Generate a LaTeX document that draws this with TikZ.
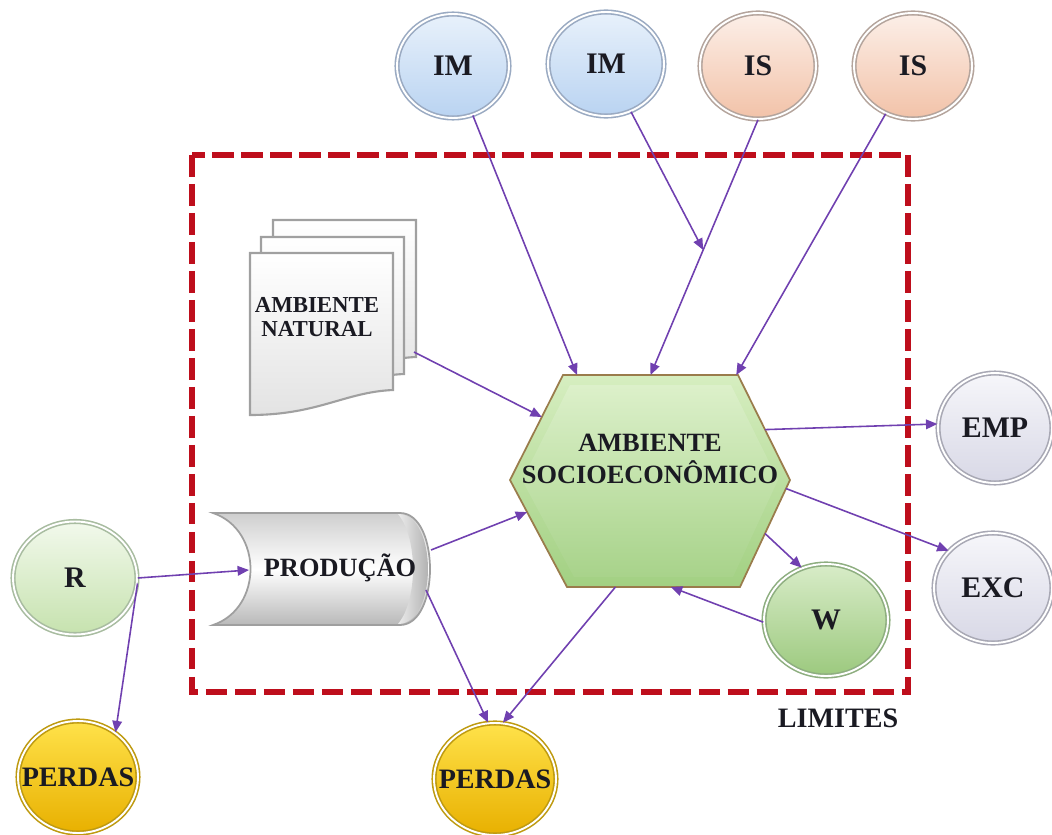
\documentclass[tikz,border=0pt]{standalone}
\usepackage{fontspec}
\setmainfont{Liberation Serif}
\usetikzlibrary{arrows.meta,shapes.geometric,calc}

\definecolor{linkc}{HTML}{7040B0}
\definecolor{limred}{HTML}{BE0E1C}
\definecolor{txt}{HTML}{1A1A22}
\definecolor{imtop}{HTML}{E8F1FB}\definecolor{imbot}{HTML}{B9D3F1}\definecolor{imring}{HTML}{9AAAC2}
\definecolor{istop}{HTML}{FCEFE8}\definecolor{isbot}{HTML}{F2C2A8}\definecolor{isring}{HTML}{B4A49C}
\definecolor{extop}{HTML}{F6F6FA}\definecolor{exbot}{HTML}{D8D8E6}\definecolor{exring}{HTML}{A8A8B4}
\definecolor{rtop}{HTML}{F2F9EC}\definecolor{rbot}{HTML}{C6E2AE}\definecolor{rring}{HTML}{A8BCA0}
\definecolor{wtop}{HTML}{D8ECC8}\definecolor{wbot}{HTML}{9CC97E}\definecolor{wring}{HTML}{8EAE80}
\definecolor{ptop}{HTML}{FFE24A}\definecolor{pbot}{HTML}{E8B000}\definecolor{pring}{HTML}{BE9A10}
\definecolor{hextop}{HTML}{D6EEC0}\definecolor{hexbot}{HTML}{A2D082}\definecolor{hexedge}{HTML}{9A7C4C}
\definecolor{pagec}{HTML}{A0A0A0}

\newcommand{\ctext}[1]{\makebox[0pt]{#1}}

\begin{document}
\begin{tikzpicture}[x=0.02cm,y=-0.02cm,
  bubble/.style={ellipse, inner sep=0pt, line width=0.9pt, double=white, double distance=1.1pt,
    text=txt, font=\fontsize{17}{17}\selectfont\bfseries},
  imb/.style={bubble, draw=imring, top color=imtop, bottom color=imbot},
  isb/.style={bubble, draw=isring, top color=istop, bottom color=isbot},
  exb/.style={bubble, draw=exring, top color=extop, bottom color=exbot},
  rb/.style={bubble, draw=rring, top color=rtop, bottom color=rbot},
  wb/.style={bubble, draw=wring, top color=wtop, bottom color=wbot},
  pb/.style={bubble, draw=pring, top color=ptop, bottom color=pbot, font=\fontsize{16}{16}\selectfont\bfseries},
  link/.style={draw=linkc, line width=0.9pt, -{Triangle[length=6.5pt,width=5.5pt]}},
  limit/.style={draw=limred, line width=3.6pt, dash pattern=on 12.3pt off 4.2pt},
  page/.style={draw=pagec, line width=1.2pt, top color=white, bottom color=gray!22},
  label/.style={text=txt, font=\fontsize{15}{18}\selectfont\bfseries, align=center}]

\useasboundingbox (0,0) rectangle (1052,835);

% system boundary
\draw[limit] (192,155) rectangle (908,692);
\node[label, font=\fontsize{16}{16}\selectfont\bfseries] (lim) at (838,718) {LIMITES};

% stacked pages: natural environment
\foreach \dx/\dy in {23/-33, 11/-16, 0/0}{
  \begin{scope}[shift={(\dx,\dy)}]
    \path[page] (250,253) -- (393,253) -- (393,390)
      .. controls (345,392) and (318,415) .. (250,415) -- cycle;
  \end{scope}
}
\node[label, font=\fontsize{13}{14}\selectfont\bfseries] (nat) at (317,317) {AMBIENTE\\NATURAL};
\coordinate (docOut) at (414,352);

% production cylinder
\path[draw=gray!75, line width=1pt, top color=gray!38, bottom color=gray!55, middle color=white]
  (213,513) -- (400,513) .. controls (440,513) and (440,625) .. (400,625)
  -- (213,625) .. controls (263,608) and (263,530) .. (213,513) -- cycle;
\path[left color=gray!15, right color=gray!75]
  (398,514) .. controls (438,514) and (438,624) .. (398,624)
  .. controls (418,600) and (418,538) .. (398,514) -- cycle;
\node[label, font=\fontsize{15}{15}\selectfont\bfseries] (prod) at (340,568) {PRODUÇÃO};
\coordinate (prodIn) at (249,570);
\coordinate (prodOut1) at (431,550);
\coordinate (prodOut2) at (426,590);

% socio-economic environment hexagon
\coordinate (hTL) at (563,375); \coordinate (hTR) at (738,375);
\coordinate (hR) at (790,480);  \coordinate (hBR) at (740,587);
\coordinate (hBL) at (567,587); \coordinate (hL) at (510,480);
\path[draw=hexedge, line width=1pt, top color=hextop, bottom color=hexbot]
  (hTL) -- (hTR) -- (hR) -- (hBR) -- (hBL) -- (hL) -- cycle;
\path[top color=hextop!70!white, bottom color=hexbot!90!white, opacity=0.6]
  (570,385) -- (731,385) -- (778,480) -- (733,577) -- (574,577) -- (522,480) -- cycle;
\node[label] (hex) at (650,459) {AMBIENTE\\SOCIOECONÔMICO};

\coordinate (hIn1) at ($(hTL)!0.08!(hTR)$);
\coordinate (hIn2) at ($(hTL)!0.5!(hTR)$);
\coordinate (hIn3) at ($(hTL)!0.99!(hTR)$);
\coordinate (hIn4) at ($(hL)!0.6!(hTL)$);
\coordinate (hIn5) at ($(hL)!0.3!(hBL)$);
\coordinate (hIn6) at ($(hBL)!0.6!(hBR)$);
\coordinate (hOut1) at ($(hTR)!0.52!(hR)$);
\coordinate (hOut2) at ($(hR)!0.08!(hBR)$);
\coordinate (hOut3) at ($(hR)!0.5!(hBR)$);
\coordinate (hOut4) at ($(hBL)!0.28!(hBR)$);

% bubbles
\node[imb, minimum width=112*0.02cm, minimum height=104*0.02cm] (im1) at (453,66) {\ctext{IM}};
\node[imb, minimum width=116*0.02cm, minimum height=104*0.02cm] (im2) at (606,64) {\ctext{IM}};
\node[isb, minimum width=116*0.02cm, minimum height=106*0.02cm] (is1) at (758,66) {\ctext{IS}};
\node[isb, minimum width=118*0.02cm, minimum height=106*0.02cm] (is2) at (913,66) {\ctext{IS}};
\node[exb, minimum width=114*0.02cm, minimum height=110*0.02cm] (emp) at (995,428) {\ctext{EMP}};
\node[exb, minimum width=118*0.02cm, minimum height=110*0.02cm] (exc) at (993,588) {\ctext{EXC}};
\node[wb,  minimum width=124*0.02cm, minimum height=112*0.02cm] (w) at (826,620) {\ctext{W}};
\node[rb,  minimum width=124*0.02cm, minimum height=113*0.02cm] (r) at (75,578) {\ctext{R}};
\node[pb,  minimum width=120*0.02cm, minimum height=112*0.02cm] (p1) at (78,777) {\ctext{PERDAS}};
\node[pb,  minimum width=122*0.02cm, minimum height=112*0.02cm] (p2) at (495,779) {\ctext{PERDAS}};

% flows
\coordinate (jn) at ($(is1.south)!0.51!(hIn2)$);
\draw[link] (im1) -- (hIn1);
\draw[link] (im2) -- (jn);
\draw[link] (is1.south) -- (hIn2);
\draw[link] (is2) -- (hIn3);
\draw[link] (docOut) -- (hIn4);
\draw[link] (prodOut1) -- (hIn5);
\draw[link] (r.east) -- (prodIn);
\draw[link] (r.-5) -- (p1.50);
\draw[link] (prodOut2) -- (p2.97);
\draw[link] (hOut4) -- (p2.82);
\draw[link] (hOut1) -- (emp.176);
\draw[link] (hOut2) -- (exc.140);
\draw[link] (hOut3) -- (w.115);
\draw[link] (w.182) -- (hIn6);
\end{tikzpicture}
\end{document}
